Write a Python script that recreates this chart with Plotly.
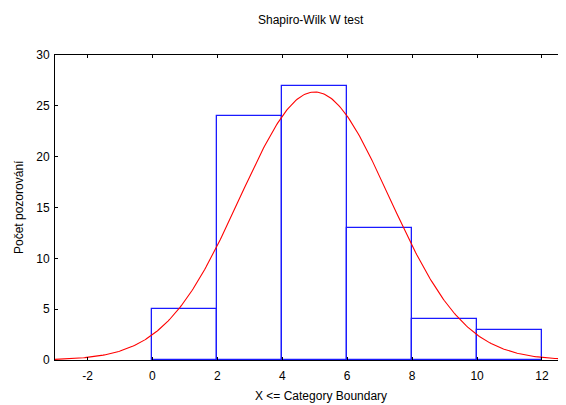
import numpy as np
import plotly.graph_objects as go

# Histogram data (bin upper boundaries and observed counts)
bin_left = [0, 2, 4, 6, 8, 10]
bin_right = [2, 4, 6, 8, 10, 12]
counts = [5, 24, 27, 13, 4, 3]

# Fitted normal curve parameters (expected counts)
fit_mean = 5.0
fit_sd = 2.3
n_obs = sum(counts)
bin_width = 2

x_ticks = [-2, 0, 2, 4, 6, 8, 10, 12]
y_ticks = [0, 5, 10, 15, 20, 25, 30]

centers = [(a + b) / 2 for a, b in zip(bin_left, bin_right)]
widths = [b - a for a, b in zip(bin_left, bin_right)]

xc = np.linspace(-3, 13, 400)
yc = n_obs * bin_width / (fit_sd * np.sqrt(2 * np.pi)) * np.exp(-0.5 * ((xc - fit_mean) / fit_sd) ** 2)

# page body has an 8px default margin; the figure is sized to fill the rest of the window
OFF = 8
W, H = 566 - OFF, 405 - OFF
L, R, T = 55 - OFF, 0, 54.5 - OFF
B = H - (360.5 - OFF)
PW, PH = W - L - R, H - T - B


def px(sx):
    return (sx - OFF - L) / PW


def py(sy):
    return 1 - (sy - OFF - T) / PH


fig = go.Figure()
fig.add_trace(go.Bar(
    x=centers, y=counts, width=widths,
    marker=dict(color="rgba(0,0,0,0)", line=dict(color="#1a1aff", width=1.3)),
    showlegend=False, hoverinfo="skip",
))
fig.add_trace(go.Scatter(
    x=xc, y=yc, mode="lines",
    line=dict(color="#ff0000", width=1.1),
    showlegend=False, hoverinfo="skip",
))

font = dict(family="Liberation Sans, Arial, sans-serif", size=12, color="black")

fig.update_layout(
    width=W, height=H,
    margin=dict(l=L, r=R, t=T, b=B, autoexpand=False),
    paper_bgcolor="white", plot_bgcolor="white",
    font=font,
    bargap=0,
    annotations=[
        dict(text="Shapiro-Wilk W test", xref="paper", yref="paper",
             x=px(311), y=py(19),
             xanchor="center", yanchor="middle", showarrow=False, font=dict(size=12)),
        dict(text="X <= Category Boundary", xref="paper", yref="paper",
             x=px(321), y=py(397),
             xanchor="center", yanchor="middle", showarrow=False, font=dict(size=12)),
        dict(text="Počet pozorování", xref="paper", yref="paper",
             x=px(19), y=py(207), textangle=-90,
             xanchor="center", yanchor="middle", showarrow=False, font=dict(size=12)),
    ],
)
fig.update_xaxes(
    range=[-3, 12.74], tickvals=x_ticks, ticktext=[str(v) for v in x_ticks],
    ticks="inside", ticklen=3, tickcolor="black", tickwidth=1,
    showline=True, linecolor="black", linewidth=1, mirror="ticks",
    showgrid=False, zeroline=False, automargin=False, ticklabelstandoff=5,
)
fig.update_yaxes(
    range=[0, 30], tickvals=y_ticks,
    ticks="inside", ticklen=3, tickcolor="black", tickwidth=1,
    showline=True, linecolor="black", linewidth=1, mirror=False,
    showgrid=False, zeroline=False, automargin=False, ticklabelstandoff=2,
)

fig.write_html("out.html")
